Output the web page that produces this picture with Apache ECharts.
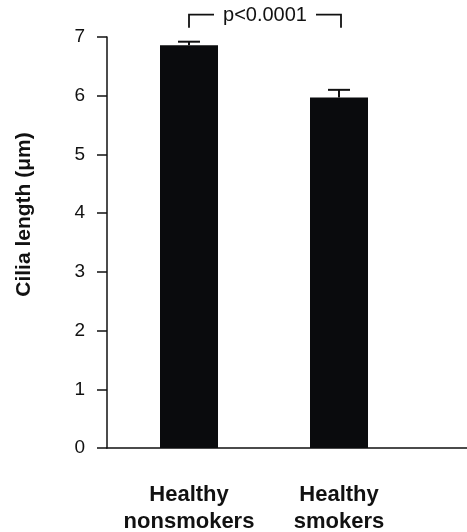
<!DOCTYPE html>
<html>
<head>
<meta charset="utf-8">
<script src="https://cdn.jsdelivr.net/npm/echarts@6/dist/echarts.min.js"></script>
<style>
  html, body { margin: 0; padding: 0; background: #fff; }
  #chart { width: 467px; height: 532px; }
</style>
</head>
<body>
<div id="chart"></div>
<script>
// ---- data ----
const categories = ['Healthy\nnonsmokers', 'Healthy\nsmokers'];
const means = [6.86, 5.97];          // cilia length (µm)
const sems = [0.06, 0.13];           // error bar (upper)
const yTicks = [0, 1, 2, 3, 4, 5, 6, 7];
const pLabel = 'p<0.0001';
const compared = [1, 2];             // positions of the two compared groups

const FONT = '"Liberation Sans", Arial, Helvetica, sans-serif';
const INK = '#111111';
const BAR = '#0a0b0d';

const chart = echarts.init(document.getElementById('chart'), null, { renderer: 'canvas' });

const barData = categories.map((c, i) => [i + 1, means[i]]);
const errData = categories.map((c, i) => [i + 1, means[i], sems[i]]);

chart.setOption({
  animation: false,
  backgroundColor: '#ffffff',
  grid: { left: 107, right: 0, top: 37, bottom: 84, containLabel: false, outerBoundsMode: 'none' },
  xAxis: {
    type: 'value',
    min: 0.4533,
    max: 2.8533,
    splitLine: { show: false },
    axisLine: { show: true, onZero: false, lineStyle: { color: INK, width: 1.5 } },
    axisTick: { show: false },
    axisLabel: {
      customValues: [1, 2],
      formatter: v => categories[Math.round(v) - 1] || '',
      fontFamily: FONT,
      fontWeight: 'bold',
      fontSize: 22,
      lineHeight: 27,
      color: INK,
      margin: 33
    }
  },
  yAxis: {
    type: 'value',
    min: yTicks[0],
    max: yTicks[yTicks.length - 1],
    interval: 1,
    splitLine: { show: false },
    axisLine: { show: true, lineStyle: { color: INK, width: 1.5 } },
    axisTick: { show: true, inside: false, length: 10, lineStyle: { color: INK, width: 1.5 } },
    axisLabel: {
      fontFamily: FONT,
      fontSize: 19,
      color: INK,
      margin: 22
    },
    name: 'Cilia length (μm)',
    nameLocation: 'middle',
    nameRotate: 90,
    nameGap: 72,
    nameTextStyle: {
      fontFamily: FONT,
      fontWeight: 'bold',
      fontSize: 21,
      color: INK,
      padding: [0, 0, 0, 56]
    }
  },
  series: [
    {
      type: 'bar',
      data: barData,
      barWidth: 58,
      itemStyle: { color: BAR },
      z: 2
    },
    {
      type: 'custom',
      data: errData,
      encode: { x: 0, y: 1 },
      z: 3,
      renderItem: function (params, api) {
        const x = api.value(0);
        const m = api.value(1);
        const e = api.value(2);
        const base = api.coord([x, m]);
        const top = api.coord([x, m + e]);
        const half = 11;
        const style = { stroke: INK, lineWidth: 2, fill: null };
        return {
          type: 'group',
          children: [
            { type: 'line', shape: { x1: base[0], y1: base[1], x2: top[0], y2: top[1] }, style },
            { type: 'line', shape: { x1: top[0] - half, y1: top[1], x2: top[0] + half, y2: top[1] }, style }
          ]
        };
      }
    },
    {
      type: 'custom',
      data: [[compared[0], compared[1]]],
      clip: false,
      z: 4,
      silent: true,
      renderItem: function (params, api) {
        const i0 = compared[0] - 1, i1 = compared[1] - 1;
        const c0 = api.coord([compared[0], means[i0] + sems[i0]]);
        const c1 = api.coord([compared[1], means[i1] + sems[i1]]);
        const yBottom = Math.min(c0[1], c1[1]) - 14;
        const yTop = yBottom - 13;
        const xl = c0[0], xr = c1[0] + 2;
        const xm = (xl + xr) / 2;
        const gap = 51;
        const style = { stroke: INK, lineWidth: 1.8, fill: null };
        return {
          type: 'group',
          children: [
            { type: 'polyline', shape: { points: [[xl, yBottom], [xl, yTop], [xm - gap, yTop]] }, style },
            { type: 'polyline', shape: { points: [[xm + gap, yTop], [xr, yTop], [xr, yBottom]] }, style },
            {
              type: 'text',
              style: {
                x: xm, y: yTop + 1,
                text: pLabel,
                align: 'center',
                verticalAlign: 'middle',
                fontFamily: FONT,
                fontSize: 20,
                fill: INK
              }
            }
          ]
        };
      }
    }
  ]
});
</script>
</body>
</html>
